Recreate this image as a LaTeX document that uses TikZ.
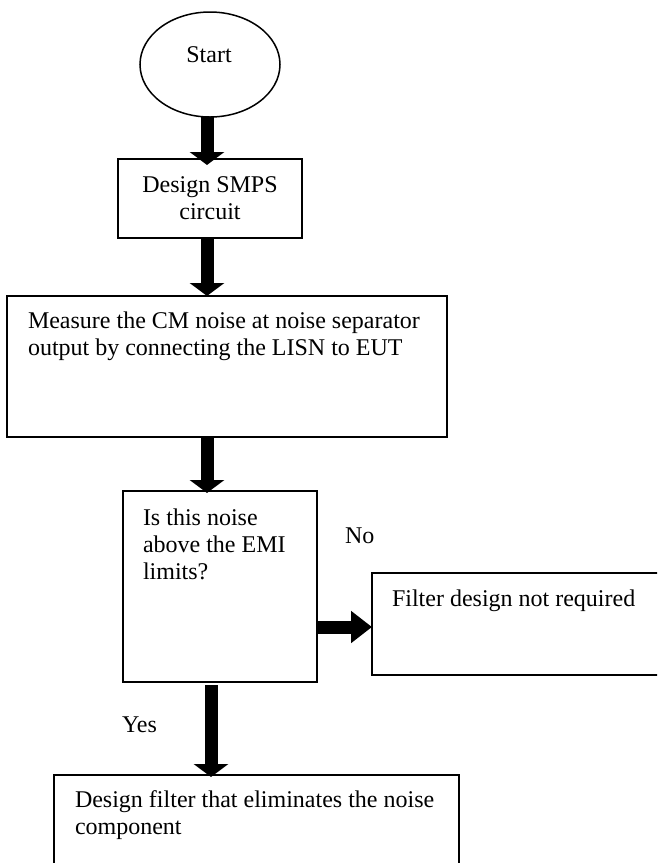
\documentclass[tikz,border=0pt]{standalone}
\usepackage{fontspec}
\setmainfont{Liberation Serif}
\usetikzlibrary{shapes.geometric,arrows.meta}
\begin{document}
\begin{tikzpicture}[x=1pt,y=-1pt,
  box/.style={draw, line width=1.7pt, rectangle, inner sep=0pt, outer sep=0pt},
  oval/.style={draw, line width=1.5pt, ellipse, inner sep=0pt, outer sep=0pt},
  txt/.style={inner sep=0pt, outer sep=0pt, font=\fontsize{24}{27}\selectfont},
  downarrow/.style={line width=13pt, -{Triangle[width=34pt,length=13pt]}},
  sidearrow/.style={line width=13pt, -{Triangle[width=31pt,length=21pt]}}]
\useasboundingbox (0,0) rectangle (657,863);
\clip (0,0) rectangle (657,863);
% shapes
\node[oval, minimum width=140pt, minimum height=105pt] (start) at (210,64.5) {};
\node[box, minimum width=184pt, minimum height=79pt] (smps) at (210,198.5) {};
\node[box, minimum width=440pt, minimum height=141pt] (measure) at (227,366.5) {};
\node[box, minimum width=194pt, minimum height=191pt] (decision) at (220,586.5) {};
\node[box, minimum width=318pt, minimum height=102pt] (notreq) at (531,624) {};
\node[box, minimum width=405pt, minimum height=115pt] (final) at (256.5,832.5) {};
% texts
\node[txt, anchor=base] (starttxt) at (209,62) {Start};
\node[txt, anchor=base, text width=184pt, align=flush center] (smpstxt) at (210,192) {Design SMPS\\circuit};
\node[txt, anchor=base west, text width=420pt, align=flush left] (meastxt) at (28,328) {Measure the CM noise at noise separator\\output by connecting the LISN to EUT};
\node[txt, anchor=base west, text width=170pt, align=flush left] (dectxt) at (143,525) {Is this noise\\above the EMI\\limits?};
\node[txt, anchor=base west] (notreqtxt) at (392,606) {Filter design not required};
\node[txt, anchor=base west, text width=380pt, align=flush left] (finaltxt) at (75,807) {Design filter that eliminates the noise\\component};
\node[txt, anchor=base west] (notxt) at (345,543) {No};
\node[txt, anchor=base west] (yestxt) at (122,732) {Yes};
% connectors
\draw[downarrow] ([xshift=-3pt]start.south) -- ([xshift=-3pt,yshift=-6pt]smps.north);
\draw[downarrow] ([xshift=-3pt]smps.south) -- ([xshift=-3pt]smps.south |- measure.north);
\draw[downarrow] ([xshift=-13pt]decision.north |- measure.south) -- ([xshift=-13pt,yshift=-2pt]decision.north);
\draw[sidearrow] ([yshift=-3pt]notreq.west -| decision.east) -- ([yshift=-3pt]notreq.west);
\draw[downarrow] ([xshift=-9pt,yshift=-3pt]decision.south) -- ([xshift=-9pt,yshift=-2pt]decision.south |- final.north);
\end{tikzpicture}
\end{document}
